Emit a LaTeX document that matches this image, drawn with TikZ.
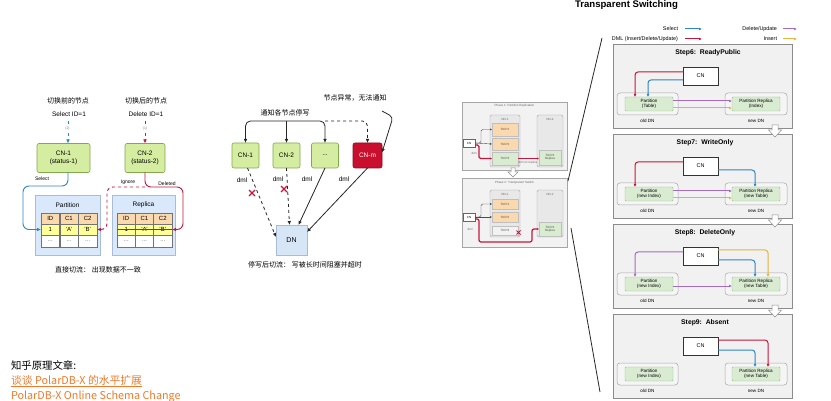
\documentclass[tikz,border=0pt]{standalone}
\usepackage{fontspec}
\setmainfont{Liberation Sans}
\newfontfamily\cjk{Noto Sans CJK SC}
\usetikzlibrary{arrows.meta}
\newcommand\myfs[1]{\fontsize{#1}{#1}\selectfont}
\definecolor{cngreen}{HTML}{D5EDA0}
\definecolor{cngreenb}{HTML}{82A84E}
\definecolor{contblue}{HTML}{DAE8FC}
\definecolor{contblueb}{HTML}{A9BCD6}
\definecolor{hdrorange}{HTML}{FBD9AE}
\definecolor{rowyellow}{HTML}{FFFF9A}
\definecolor{bluec}{HTML}{2E86C1}
\definecolor{redc}{HTML}{C4173C}
\definecolor{purplec}{HTML}{A66BC0}
\definecolor{yellowc}{HTML}{E5B43A}
\definecolor{linkorange}{HTML}{F07A2A}
\definecolor{cnred}{HTML}{C8102E}
\definecolor{dnblue}{HTML}{D6E6F7}
\definecolor{stepgray}{HTML}{F1F1F1}
\definecolor{pgreen}{HTML}{D9ECD2}
\definecolor{pgreenb}{HTML}{96C08A}
\begin{document}
\begin{tikzpicture}[x=1pt,y=-1pt,
  every node/.style={inner sep=0pt,outer sep=0pt},
  cnbox/.style={draw=cngreenb,fill=cngreen,rounded corners=2pt,line width=0.6pt,align=center,font=\myfs{6.5}},
  cont/.style={draw=contblueb,fill=contblue,line width=0.5pt},
  cell/.style={draw=black!55,line width=0.4pt,minimum width=18.5pt,font=\myfs{6}},
  lbl/.style={font=\myfs{6.5}},
  smlbl/.style={font=\myfs{5}},
  cjklbl/.style={font=\cjk\myfs{7}},
  arr/.style={-{Latex[length=4pt,width=3.6pt]}},
  sarr/.style={-{Latex[length=3pt,width=2.8pt]}},
  tarr/.style={-{Latex[length=2pt,width=2pt]}},
  mline/.style={draw=black!85,line width=0.8pt},
  tinyt/.style={font=\myfs{3},text=black!60,align=center},
  dnsmall/.style={draw=black!35,fill=black!9,rounded corners=1.5pt,line width=0.4pt},
  pbox/.style={draw=black!25,line width=0.3pt,minimum width=26pt,font=\myfs{3},align=center,text=black!70},
  stepframe/.style={draw=black!45,fill=stepgray,line width=0.6pt},
  steptitle/.style={font=\bfseries\myfs{6.8}},
  cnw/.style={draw=black!80,fill=white,minimum width=35pt,minimum height=18pt,font=\myfs{5.5},line width=0.6pt},
  dnout/.style={draw=black!35,fill=black!4,rounded corners=3pt,minimum width=61pt,minimum height=22pt,line width=0.5pt},
  pinner/.style={draw=pgreenb,fill=pgreen,minimum width=48pt,minimum height=14pt,font=\myfs{4.6},align=center,rounded corners=1pt,line width=0.4pt},
  dnlbl/.style={font=\myfs{4.6}},
  carr/.style={line width=1pt,rounded corners=3pt,-{Latex[length=3pt,width=3pt]}},
  hollow/.style={draw=black!45,fill=white,line width=0.5pt}
]
\useasboundingbox (0,0) rectangle (831,401);
\fill[white] (0,0) rectangle (831,401);

% ================= LEFT DIAGRAM =================
\node[cjklbl] (lt1) at (68,101) {切换前的节点};
\node[lbl] (lt2) at (69,114) {Select ID=1};
\node[cjklbl] (rt1) at (146,101) {切换后的节点};
\node[lbl] (rt2) at (146,114) {Delete ID=1};

\node[cnbox,minimum width=53pt,minimum height=29pt] (cn1) at (63.5,158) {CN-1\\[1pt](status-1)};
\node[cnbox,minimum width=40pt,minimum height=29pt] (cn2) at (145,158) {CN-2\\[1pt](status-2)};

\coordinate (in1) at (68,121);
\coordinate (in2) at (145,121);
\draw[bluec,dashed,line width=0.8pt,arr] (in1) -- (in1 |- cn1.north);
\node[font=\myfs{3.5},text=black!50,fill=white,inner sep=0.5pt] (n2) at (67.5,129) {(2)};
\draw[redc,dashed,line width=0.8pt,arr] (in2) -- (in2 |- cn2.north);
\node[font=\myfs{3.5},text=black!50,fill=white,inner sep=0.5pt] (n1) at (145,129) {(1)};

\draw[cont] (35,195) rectangle (100,255);
\node[lbl] (pal) at (67.5,205) {Partition};
\draw[cont] (112,195) rectangle (175,255);
\node[lbl] (rel) at (143.5,205) {Replica};

\foreach \i/\x/\a/\b in {1/50.3/ID/1, 2/69/C1/'A', 3/87.7/C2/'B'} {
  \node[cell,fill=hdrorange,minimum height=11pt] (pa-1-\i) at (\x,218.5) {\a};
  \node[cell,fill=rowyellow,minimum height=11pt] (pa-2-\i) at (\x,229.5) {\b};
  \node[cell,fill=white,minimum height=12pt,text=black!60] (pa-3-\i) at (\x,241) {...};
}
\foreach \i/\x/\a/\b in {1/126.2/ID/1, 2/144.5/C1/'A', 3/162.8/C2/'B'} {
  \node[cell,fill=hdrorange,minimum height=11pt] (re-1-\i) at (\x,218.5) {\a};
  \node[cell,fill=rowyellow,minimum height=11pt] (re-2-\i) at (\x,229.5) {\b};
  \node[cell,fill=white,minimum height=12pt,text=black!60] (re-3-\i) at (\x,241) {...};
}
\draw[redc,line width=0.8pt] (re-2-1.west) -- (re-2-3.east);

\draw[bluec,line width=0.9pt,rounded corners=6pt,arr] (in1 |- cn1.south) -- (68,186) -- (23,186) -- (23,229.5) -- (pa-2-1.west);
\node[smlbl] (sel) at (42,179) {Select};
\draw[redc,line width=0.9pt,rounded corners=6pt,arr] (cn2.south) -- (145,187) -- (183,187) -- (183,229.5) -- (re-2-3.east);
\node[smlbl] (del) at (167,184) {Deleted};
\draw[redc,dashed,line width=0.9pt,rounded corners=6pt,arr] (145,187) -- (107,187) -- (107,229.5) -- (pa-2-3.east);
\node[smlbl] (ign) at (128,182) {Ignore};

\node[cjklbl] (cap1) at (98,270) {直接切流： 出现数据不一致};

% ================= MIDDLE DIAGRAM =================
\node[cjklbl] (mt1) at (355,98) {节点异常，无法通知};
\node[cjklbl] (mt2) at (285,113) {通知各节点停写};
\node[cnbox,minimum width=27pt,minimum height=25pt] (m1) at (245.5,155.5) {CN-1};
\node[cnbox,minimum width=27pt,minimum height=25pt] (m2) at (286.5,155.5) {CN-2};
\node[cnbox,minimum width=27pt,minimum height=25pt] (m3) at (325,155.5) {...};
\node[draw=cnred!70!black,fill=cnred,text=white,rounded corners=2pt,minimum width=29pt,minimum height=25pt,font=\myfs{6.5},line width=0.6pt] (mm) at (367.5,155.5) {CN-m};
\node[draw=contblueb,fill=dnblue,minimum width=31pt,minimum height=30pt,font=\myfs{7},line width=0.6pt] (dn) at (291.5,240) {DN};

\draw[mline,rounded corners=5pt,arr] (286.5,121) -- (245.5,121) -- (m1.north);
\draw[mline,arr] (286.5,121) -- (m2.north);
\draw[mline,rounded corners=5pt,arr] (286.5,121) -- (325,121) -- (m3.north);
\draw[mline,dashed,rounded corners=5pt,arr] (325,121) -- (367.5,121) -- (mm.north);
\draw[mline,rounded corners=4pt,arr] (382,111) -- (393,117) -- ([yshift=3pt]mm.east);

\draw[mline,dashed,arr] ([xshift=2pt]m1.south) -- ([yshift=3pt]dn.west);
\draw[mline,dashed,arr] (m2.south) -- ([xshift=-2pt]dn.north);
\draw[mline,arr] (m3.south) -- ([xshift=7pt]dn.north);
\draw[mline,arr] (mm.south) -- ([yshift=8pt]dn.east);
\node[lbl] (d1) at (242,180) {dml};
\node[lbl] (d2) at (278,179) {dml};
\node[lbl] (d3) at (307,179) {dml};
\node[lbl] (d4) at (344,179) {dml};
\draw[redc,line width=1.3pt] (249,190) -- (255,196) (249,196) -- (255,190);
\draw[redc,line width=1.3pt] (281,186) -- (287,192) (281,192) -- (287,186);

\node[cjklbl] (cap2) at (305,265) {停写后切流： 写被长时间阻塞并超时};

% ================= BOTTOM LEFT TEXT =================
\node[anchor=west,font=\cjk\myfs{10.4}] (h1) at (11,365) {知乎原理文章:};
\node[anchor=west,font=\cjk\myfs{10.8},text=linkorange] (h2) at (11,381) {\underline{谈谈 PolarDB-X 的水平扩展}};
\node[anchor=west,font=\cjk\myfs{10.8},text=linkorange] (h3) at (11,396.5) {PolarDB-X Online Schema Change};

% ================= SMALL PHASE DIAGRAM =================
\draw[draw=black!35,fill=black!5,line width=0.5pt] (462,102) rectangle (567,170);
\node[tinyt] (ph1) at (514.5,106) {Phase 1: Partition Replication};
\node[dnsmall,minimum width=30pt,minimum height=52pt] (d11) at (505,141) {};
\node[tinyt] (d11l) at (505,119) {DN-1};
\node[pbox,fill=hdrorange,minimum height=13pt] (p11) at (505,129.5) {Tbl.P1};
\node[pbox,fill=hdrorange,minimum height=12pt] (p12) at (505,144) {Tbl.P2};
\node[pbox,fill=pgreen,minimum height=13pt] (p13) at (505,158.5) {Tbl.P3};
\node[dnsmall,minimum width=26pt,minimum height=52pt] (d12) at (550,141) {};
\node[tinyt] (d12l) at (550,119) {DN-2};
\node[pbox,fill=pgreen,minimum width=22pt,minimum height=15pt] (r13) at (550,157.5) {Tbl.P3\\Replica};
\node[draw=black!60,fill=white,minimum width=12pt,minimum height=8pt,font=\myfs{3}] (c1) at (469,143) {CN};
\draw[black!70,line width=0.4pt,rounded corners=1.5pt,tarr] (c1.east) -- (481,143) -- (481,129.5) -- (p11.west);
\draw[black!70,line width=0.4pt,tarr] (c1.east) -- (p12.west);
\draw[redc,line width=1.2pt,rounded corners=1.5pt,tarr] ([yshift=-2pt]c1.east) -- (479,145) -- (479,158.5) -- (p13.west);
\node[tinyt] (dml1) at (474,153) {dml};
\draw[redc,line width=1.2pt,tarr] (p13.east) -- (r13.west |- p13.east);
\node[tinyt] (dml1b) at (528,163) {dml on replica};

\draw[hollow] (511,168) -- (515,168) -- (515,172) -- (518,172) -- (513,177) -- (508,172) -- (511,172) -- cycle;

\draw[draw=black!35,fill=black!5,line width=0.5pt] (462,178) rectangle (567,247);
\node[tinyt] (ph2) at (514.5,183) {Phase 2: Transparent Switch};
\node[dnsmall,minimum width=30pt,minimum height=47pt] (d21) at (505,213.5) {};
\node[tinyt] (d21l) at (505,194) {DN-1};
\node[pbox,fill=hdrorange,minimum height=10pt] (p21) at (505,204) {Tbl.P1};
\node[pbox,fill=hdrorange,minimum height=10pt] (p22) at (505,217) {Tbl.P2};
\node[pbox,fill=black!5,minimum height=9pt] (p23) at (505,230.5) {Tbl.P3};
\node[dnsmall,minimum width=26pt,minimum height=47pt] (d22) at (550,213.5) {};
\node[tinyt] (d22l) at (550,194) {DN-2};
\node[pbox,fill=pgreen,minimum width=22pt,minimum height=14pt] (r23) at (550,229) {Tbl.P3\\Replica};
\node[draw=black!60,fill=white,minimum width=12pt,minimum height=8pt,font=\myfs{3}] (c2) at (469,217) {CN};
\draw[black!70,line width=0.4pt,rounded corners=1.5pt,tarr] (c2.east) -- (481,217) -- (481,204) -- (p21.west);
\draw[black!70,line width=0.4pt,tarr] (c2.east) -- (p22.west);
\draw[redc,line width=1.2pt,rounded corners=2pt,tarr] ([yshift=-2pt]c2.east) -- (479,219) -- (479,242) -- (532,242) -- (532,229) -- (r23.west);
\node[tinyt] (dml2) at (470,229) {dml};
\draw[redc,line width=0.9pt] (516.5,230.5) -- (520.5,234.5) (516.5,234.5) -- (520.5,230.5);

% magnifier lines
\draw[black!85,line width=0.8pt] (602,38) -- (568,181);
\draw[black!85,line width=0.8pt] (571,228) -- (600,392);

% ================= RIGHT PANEL =================
\node[anchor=west,font=\bfseries\myfs{9.6}] (tt) at (575,5.5) {Transparent Switching};
\node[anchor=east,font=\myfs{5.4}] (lg1) at (678,29) {Select};
\coordinate (lg1a) at (685,29); \coordinate (lg1b) at (702,29);
\draw[bluec,line width=1pt,sarr] (lg1a) -- (lg1b);
\node[anchor=east,font=\myfs{5.4}] (lg2) at (678,39) {DML (Insert/Delete/Update)};
\coordinate (lg2a) at (685,39); \coordinate (lg2b) at (702,39);
\draw[redc,line width=1pt,sarr] (lg2a) -- (lg2b);
\node[anchor=east,font=\myfs{5.4}] (lg3) at (777,29) {Delete/Update};
\coordinate (lg3a) at (783,29); \coordinate (lg3b) at (797,29);
\draw[purplec,line width=1pt,sarr] (lg3a) -- (lg3b);
\node[anchor=east,font=\myfs{5.4}] (lg4) at (777,39) {Insert};
\coordinate (lg4a) at (783,39); \coordinate (lg4b) at (797,39);
\draw[yellowc,line width=1pt,sarr] (lg4a) -- (lg4b);

% Step 6
\begin{scope}[shift={(0,44)}]
\draw[stepframe] (613,0) rectangle (792,84);
\node[steptitle] (s6t) at (708,9) {Step6:\ \ ReadyPublic};
\node[cnw] (s6cn) at (700.5,32) {CN};
\node[dnout] (s6od) at (647.5,60) {};
\node[dnout,minimum width=62pt] (s6nd) at (756,60) {};
\node[pinner] (s6p) at (649,60) {Partition\\(Table)};
\node[pinner] (s6r) at (756,60) {Partition Replica\\(Index)};
\node[dnlbl] (s6ol) at (647.5,77) {old DN};
\node[dnlbl] (s6nl) at (756,77) {new DN};
\draw[redc,carr] ([yshift=4pt]s6cn.west) -- (635,28) -- (635,53);
\draw[bluec,carr] ([yshift=-4pt]s6cn.west) -- (648,36) -- (648,53);
\draw[purplec,carr] ([yshift=3pt]s6p.east) -- ([yshift=3pt]s6r.west);
\draw[yellowc,carr] ([yshift=-4pt]s6p.east) -- ([yshift=-4pt]s6r.west);
\end{scope}

% Step 7
\begin{scope}[shift={(0,134)}]
\draw[stepframe] (613,0) rectangle (792,84);
\node[steptitle] (s7t) at (705,9) {Step7:\ \ WriteOnly};
\node[cnw] (s7cn) at (700.5,32) {CN};
\node[dnout] (s7od) at (647.5,60) {};
\node[dnout,minimum width=62pt] (s7nd) at (756,60) {};
\node[pinner] (s7p) at (649,60) {Partition\\(new Index)};
\node[pinner] (s7r) at (756,60) {Partition Replica\\(new Table)};
\node[dnlbl] (s7ol) at (647.5,77) {old DN};
\node[dnlbl] (s7nl) at (756,77) {new DN};
\draw[redc,carr] ([yshift=4pt]s7cn.west) -- (635,28) -- (635,53);
\draw[bluec,carr] ([yshift=-4pt]s7cn.east) -- (755,36) -- (755,53);
\draw[purplec,carr] ([yshift=3pt]s7p.east) -- ([yshift=3pt]s7r.west);
\draw[yellowc,carr] ([yshift=-4pt]s7p.east) -- ([yshift=-4pt]s7r.west);
\end{scope}

% Step 8
\begin{scope}[shift={(0,224)}]
\draw[stepframe] (613,0) rectangle (792,84);
\node[steptitle] (s8t) at (705,9) {Step8:\ \ DeleteOnly};
\node[cnw] (s8cn) at (700.5,32) {CN};
\node[dnout] (s8od) at (647.5,60) {};
\node[dnout,minimum width=62pt] (s8nd) at (756,60) {};
\node[pinner] (s8p) at (649,60) {Partition\\(new Index)};
\node[pinner] (s8r) at (756,60) {Partition Replica\\(new Table)};
\node[dnlbl] (s8ol) at (647.5,77) {old DN};
\node[dnlbl] (s8nl) at (756,77) {new DN};
\draw[purplec,carr] ([yshift=4pt]s8cn.west) -- (635,28) -- (635,53);
\draw[yellowc,carr] ([yshift=6pt]s8cn.east) -- (768,26) -- (768,53);
\draw[bluec,carr] ([yshift=-4pt]s8cn.east) -- (755,36) -- (755,53);
\draw[purplec,carr] ([yshift=-2pt]s8p.east) -- ([yshift=-2pt]s8r.west);
\end{scope}

% Step 9
\begin{scope}[shift={(0,314)}]
\draw[stepframe] (613,0) rectangle (792,84);
\node[steptitle] (s9t) at (705,9) {Step9:\ \ Absent};
\node[cnw] (s9cn) at (700.5,32) {CN};
\node[dnout] (s9od) at (647.5,60) {};
\node[dnout,minimum width=62pt] (s9nd) at (756,60) {};
\node[pinner] (s9p) at (649,60) {Partition\\(new Index)};
\node[pinner] (s9r) at (756,60) {Partition Replica\\(new Table)};
\node[dnlbl] (s9ol) at (647.5,77) {old DN};
\node[dnlbl] (s9nl) at (756,77) {new DN};
\draw[redc,carr] ([yshift=6pt]s9cn.east) -- (768,26) -- (768,53);
\draw[bluec,carr] ([yshift=-4pt]s9cn.east) -- (755,36) -- (755,53);
\end{scope}

% hollow arrows between steps
\foreach \yy in {125,215,305} {
  \draw[hollow] (772,\yy) -- (778,\yy) -- (778,\yy+5) -- (781.5,\yy+5) -- (775,\yy+12) -- (768.5,\yy+5) -- (772,\yy+5) -- cycle;
}
\end{tikzpicture}
\end{document}
